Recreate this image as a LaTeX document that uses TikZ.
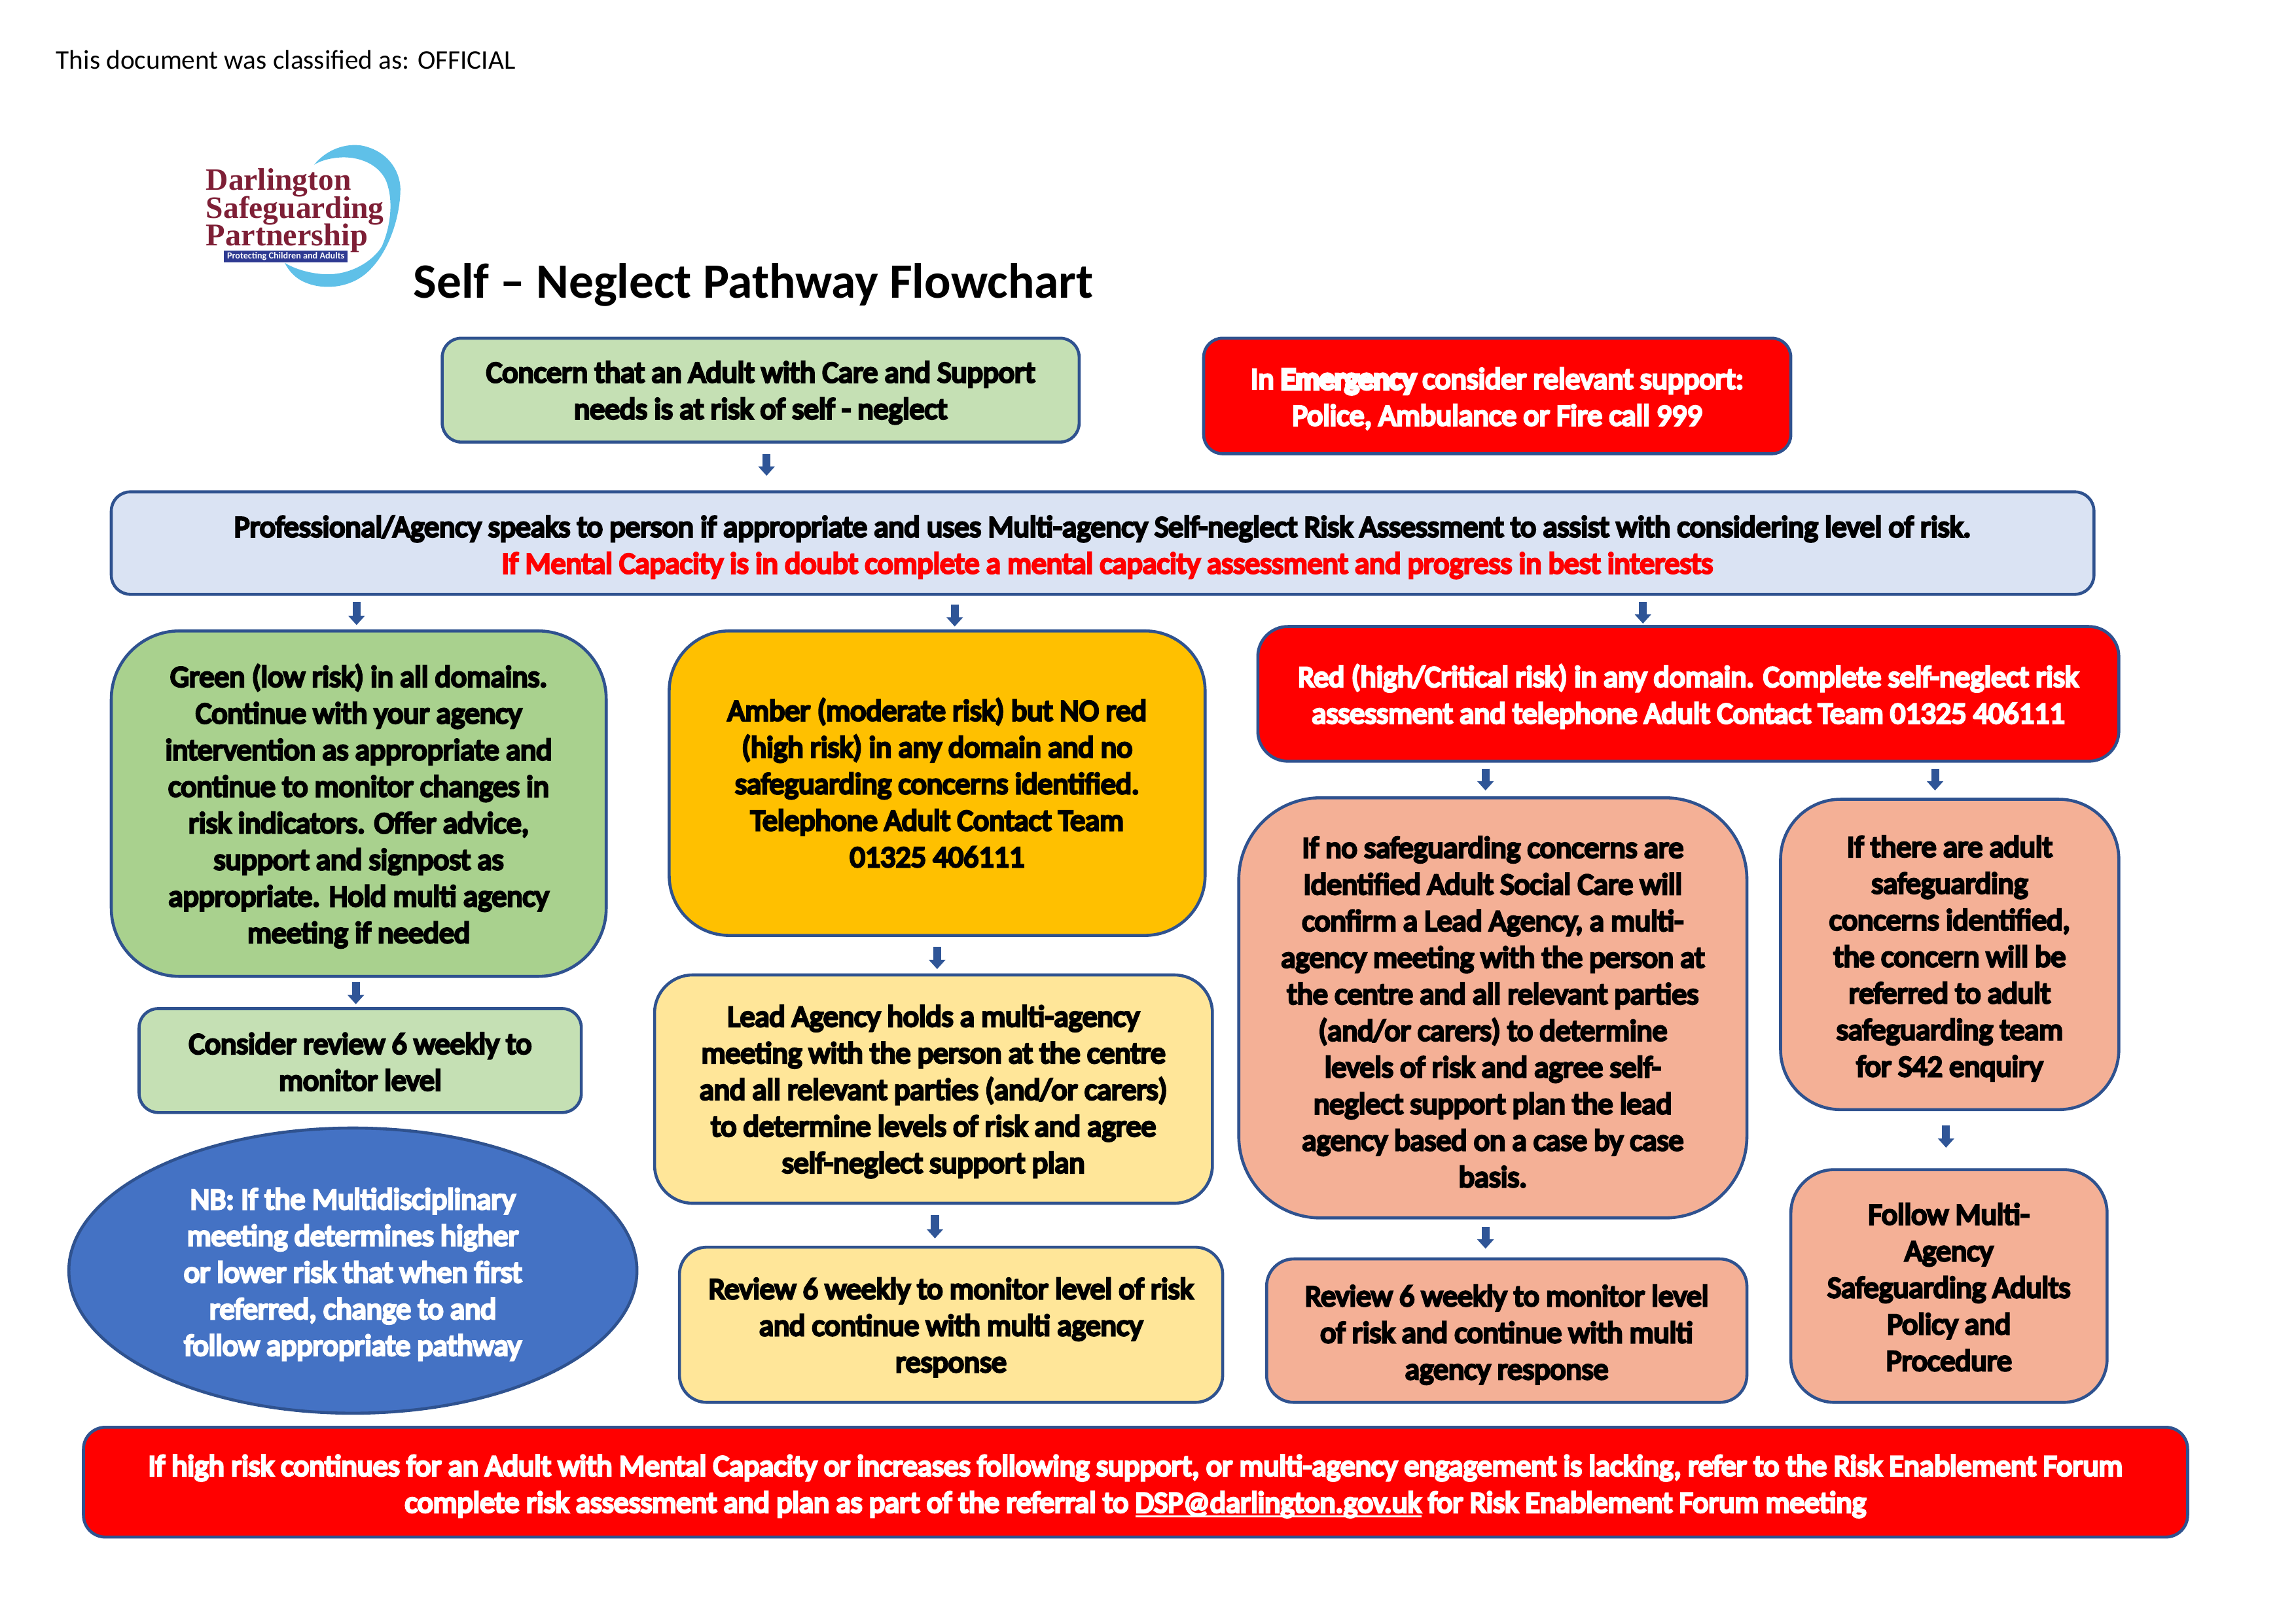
\documentclass[tikz,border=0pt]{standalone}
\usepackage{fontspec}
\usetikzlibrary{arrows.meta,shapes.geometric}
\setmainfont{Carlito}
\newfontfamily\logofont{Liberation Serif}
\newfontfamily\bodyfont[FakeBold=7]{Carlito}
\newfontfamily\heavyfont[FakeBold=12]{Carlito}
\definecolor{edge}{HTML}{2F528F}
\definecolor{flowC}{HTML}{2F5597}
\definecolor{paleGreen}{HTML}{C5E0B4}
\definecolor{midGreen}{HTML}{A9D18E}
\definecolor{paleBlue}{HTML}{DAE3F3}
\definecolor{midBlue}{HTML}{4472C4}
\definecolor{amberC}{HTML}{FFC000}
\definecolor{paleYellow}{HTML}{FFE699}
\definecolor{salmonC}{HTML}{F4B096}
\definecolor{redC}{HTML}{FF0000}
\definecolor{logoRed}{HTML}{7E1F36}
\definecolor{logoBlue}{HTML}{5FC0E8}
\definecolor{logoNavy}{HTML}{2E3A92}
\def\unitpt{0.5369}
\newlength{\ullen}
\newcommand{\thickul}[1]{\settowidth{\ullen}{#1}\rlap{\rule[-1.7pt]{\ullen}{0.65pt}}#1}
\tikzset{
  x=0.5369pt,y=-0.5369pt,
  bodytext/.style={font=\bodyfont\fontsize{11.03}{13.42}\selectfont},
  boxbase/.style={draw=edge,line width=1.1pt,inner sep=0pt,outer sep=0pt},
  labelblack/.style={inner sep=0pt,align=center,bodytext,text=black},
  labelwhite/.style={inner sep=0pt,align=center,bodytext,text=white},
  flow/.style={draw=flowC,line width=2.9pt,-{Triangle[width=5.9pt,length=3.4pt]}},
}
% name, box style, x0, y0, x1, y1, text style, dy, text
\newcommand{\bx}[9]{%
  \pgfmathsetmacro{\boxw}{(#5-#3)*\unitpt}%
  \pgfmathsetmacro{\boxh}{(#6-#4)*\unitpt}%
  \node[boxbase,#2,minimum width=\boxw pt,minimum height=\boxh pt] (#1) at ({(#3+#5)/2},{(#4+#6)/2}) {};%
  \node[#7] (#1t) at ({(#3+#5)/2},{(#4+#6)/2+#8}) {#9};%
}
% from, to, x, gap at start, gap at end
\newcommand{\arr}[5]{%
  \coordinate (ax) at (#3,0);%
  \pgfmathsetmacro{\gapa}{#4*\unitpt}%
  \pgfmathsetmacro{\gapb}{#5*\unitpt}%
  \draw[flow,shorten <=\gapa pt,shorten >=\gapb pt] (#1.south -| ax) -- (#2.north -| ax);%
}
\begin{document}
\begin{tikzpicture}
\useasboundingbox (0,0) rectangle (1568,1109);
\node[anchor=west,font=\fontsize{9.9}{12}\selectfont,inner sep=0pt] (cls) at (38,41) {This document was classified as: OFFICIAL};
% logo
\begin{scope}[shift={(111.75,80.46)},scale=0.149]
  \fill[logoBlue] (690,215) .. controls (760,130) and (860,115) .. (920,130)
     .. controls (1040,160) and (1090,260) .. (1085,340)
     .. controls (1080,480) and (1020,640) .. (920,720)
     .. controls (830,790) and (700,790) .. (620,740)
     .. controls (590,720) and (570,695) .. (555,665)
     .. controls (610,700) and (720,730) .. (810,712)
     .. controls (900,695) and (970,640) .. (1000,590)
     .. controls (1040,500) and (1055,380) .. (1020,290)
     .. controls (980,200) and (870,170) .. (780,185)
     .. controls (745,190) and (715,200) .. (690,215) -- cycle;
  \fill[logoNavy] (275,608) rectangle (843,664);
  \node[anchor=west,inner sep=0pt,text=logoRed,font=\logofont\bfseries\fontsize{11.4}{10}\selectfont] (lg1) at (192,298) {Darlington};
  \node[anchor=west,inner sep=0pt,text=logoRed,font=\logofont\bfseries\fontsize{11.4}{10}\selectfont] (lg2) at (192,425) {Safeguarding};
  \node[anchor=west,inner sep=0pt,text=logoRed,font=\logofont\bfseries\fontsize{11.6}{10}\selectfont] (lg3) at (192,552) {Partnership};
  \node[inner sep=0pt,text=white,font=\bfseries\fontsize{3.4}{4}\selectfont] (lg4) at (560,636) {Protecting Children and Adults};
\end{scope}
\node[anchor=west,font=\bfseries\fontsize{18.1}{20}\selectfont,inner sep=0pt] (title) at (282,194.5) {Self – Neglect Pathway Flowchart};
% boxes
\bx{concern}{fill=paleGreen,rounded corners=7pt}{302}{231}{737}{302}{labelblack}{1.8}{Concern that an Adult with Care and Support\\needs is at risk of self - neglect}
\bx{emerg}{fill=redC,rounded corners=7pt}{822}{231}{1223}{310}{labelwhite}{1.8}{In {\heavyfont Emergency} consider relevant support:\\Police, Ambulance or Fire call 999}
\bx{prof}{fill=paleBlue,rounded corners=7pt}{76}{336}{1430}{406}{labelblack}{2.8}{Professional/Agency speaks to person if appropriate and uses Multi-agency Self-neglect Risk Assessment to assist with considering level of risk.\\\hspace*{3.5pt}\textcolor{redC}{If Mental Capacity is in doubt complete a mental capacity assessment and progress in best interests}}
\bx{green}{fill=midGreen,rounded corners=25pt}{76}{431}{414}{667}{labelblack}{1.8}{Green (low risk) in all domains.\\Continue with your agency\\intervention as appropriate and\\continue to monitor changes in\\risk indicators. Offer advice,\\support and signpost as\\appropriate. Hold multi agency\\meeting if needed}
\bx{amber}{fill=amberC,rounded corners=22pt}{457}{431}{823}{639}{labelblack}{-0.2}{Amber (moderate risk) but NO red\\(high risk) in any domain and no\\safeguarding concerns identified.\\Telephone Adult Contact Team\\01325 406111}
\bx{red}{fill=redC,rounded corners=11pt}{859}{428}{1447}{520}{labelwhite}{1.8}{Red (high/Critical risk) in any domain. Complete self-neglect risk\\assessment and telephone Adult Contact Team 01325 406111}
\bx{consider}{fill=paleGreen,rounded corners=7pt}{95}{689}{397}{760}{labelblack}{0.8}{Consider review 6 weekly to\\monitor level}
\node[ellipse,boxbase,fill=midBlue,minimum width=208.3pt,minimum height=104.6pt] (nb) at (241,868) {};
\node[labelwhite] (nbt) at (241,870.5) {NB: If the Multidisciplinary\\meeting determines higher\\or lower risk that when first\\referred, change to and\\follow appropriate pathway};
\bx{lead}{fill=paleYellow,rounded corners=14pt}{447}{666}{828}{822}{labelblack}{1.8}{Lead Agency holds a multi-agency\\meeting with the person at the centre\\and all relevant parties (and/or carers)\\to determine levels of risk and agree\\self-neglect support plan}
\bx{review}{fill=paleYellow,rounded corners=10pt}{464}{852}{835}{958}{labelblack}{1.8}{Review 6 weekly to monitor level of risk\\and continue with multi agency\\response}
\bx{nosafe}{fill=salmonC,rounded corners=30pt}{846}{545}{1193}{832}{labelblack}{2.8}{If no safeguarding concerns are\\Identified Adult Social Care will\\confirm a Lead Agency, a multi-\\agency meeting with the person at\\the centre and all relevant parties\\(and/or carers) to determine\\levels of risk and agree self-\\neglect support plan the lead\\agency based on a case by case\\basis.}
\bx{ifthere}{fill=salmonC,rounded corners=22pt}{1216}{546}{1447}{758}{labelblack}{2.8}{If there are adult\\safeguarding\\concerns identified,\\the concern will be\\referred to adult\\safeguarding team\\for S42 enquiry}
\bx{reviewb}{fill=salmonC,rounded corners=10pt}{865}{860}{1193}{958}{labelblack}{2.8}{Review 6 weekly to monitor level\\of risk and continue with multi\\agency response}
\bx{follow}{fill=salmonC,rounded corners=16pt}{1223}{799}{1439}{958}{labelblack}{0.8}{Follow Multi-\\Agency\\Safeguarding Adults\\Policy and\\Procedure}
\bx{bottom}{fill=redC,rounded corners=8pt}{57}{975}{1494}{1050}{labelwhite}{2.8}{If high risk continues for an Adult with Mental Capacity or increases following support, or multi-agency engagement is lacking, refer to the Risk Enablement Forum\\complete risk assessment and plan as part of the referral to \thickul{DSP@darlington.gov.uk} for Risk Enablement Forum meeting}
% connectors
\arr{concern}{prof}{523.5}{8}{11}
\arr{prof}{green}{243.5}{5}{4}
\arr{prof}{amber}{652}{7}{3}
\arr{prof}{red}{1122}{5}{2}
\arr{green}{consider}{243}{4}{3}
\arr{amber}{lead}{640}{8}{4}
\arr{lead}{review}{638.5}{8}{6}
\arr{red}{nosafe}{1014.5}{5}{5}
\arr{red}{ifthere}{1321.5}{5}{6}
\arr{nosafe}{reviewb}{1014.5}{6}{7}
\arr{ifthere}{follow}{1329}{11}{15}
\end{tikzpicture}
\end{document}
